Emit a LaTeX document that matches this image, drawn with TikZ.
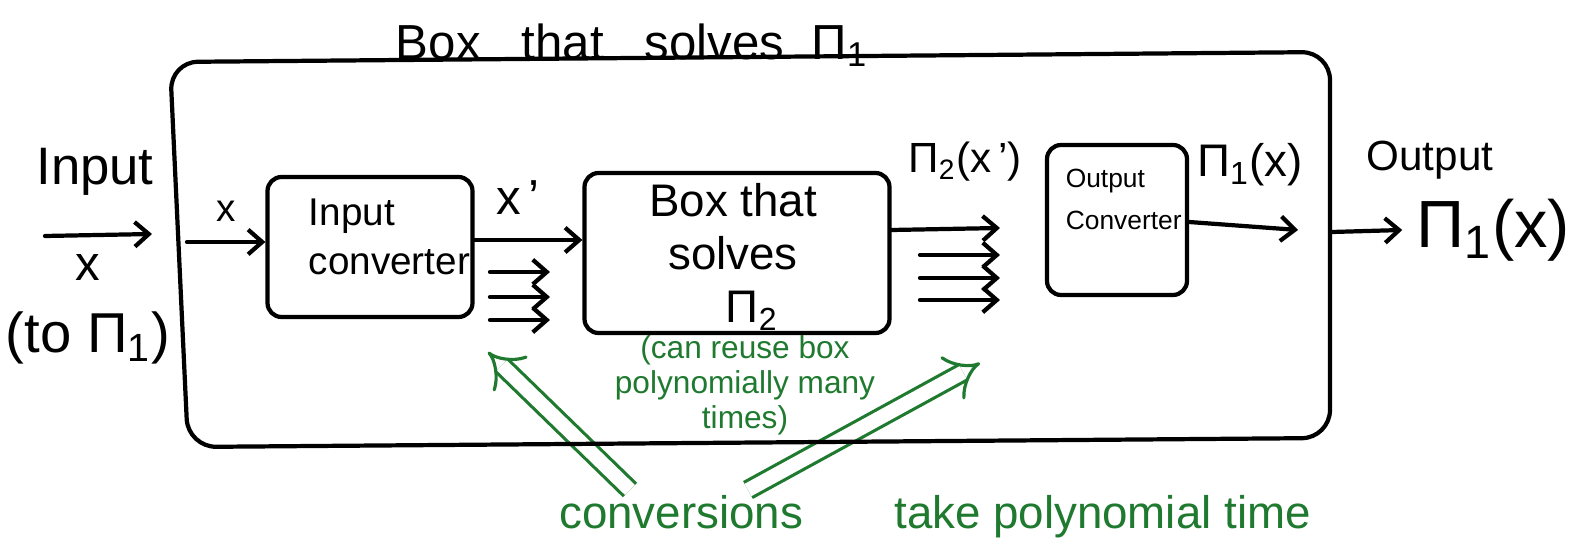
\documentclass[tikz,border=0pt]{standalone}
\usepackage{fontspec}
\setmainfont{Liberation Sans}
\usetikzlibrary{arrows.meta, positioning}
\definecolor{pen}{RGB}{31,122,48}

\begin{document}
\begin{tikzpicture}[x=1cm, y=1cm,
    line width=1.2pt, line cap=round, line join=round,
    arr/.style={-{Straight Barb[length=4pt,width=7pt]}},
    conv/.style={draw, rounded corners=4pt, inner sep=0pt},
    lbl/.style={font=\fontsize{14}{16}\selectfont},
    note/.style={text=pen, font=\fontsize{9}{10}\selectfont, align=center},
    hint/.style={pen, line width=0.9pt, line cap=butt, double distance=4pt, -Implies}]
  \useasboundingbox (0,0) rectangle (15.81,-5.52);
  % notes
  \node[note] (reuse) at (7.45,-3.85) {(can reuse box\\polynomially many\\times)};
  \node[note, font=\fontsize{13}{14}\selectfont] (poly) at (9.35,-5.17) {conversions\qquad take polynomial time};
  \coordinate (sl) at (6.3,-4.9);
  \coordinate (sr) at (7.48,-4.9);
  \coordinate (hl) at (4.88,-3.52);
  \coordinate (hr) at (9.8,-3.63);
  \draw[hint] (sl) -- (hl);
  \draw[hint] (sr) -- (hr);

  % outer box
  \draw[rounded corners=8pt] (1.7,-0.62) -- (13.3,-0.52) -- (13.3,-4.38) -- (1.88,-4.47) -- cycle;
  \node[lbl] (title) at (6.32,-0.45) {Box\ \ \ that\ \ \ solves\ \ Π\textsubscript{1}};

  % left side
  \node[lbl, font=\fontsize{15}{16}\selectfont] (inp) at (0.95,-1.72) {Input};
  \coordinate (ia) at (0.45,-2.36);
  \coordinate (ib) at (1.52,-2.34);
  \draw[arr] (ia) -- (ib);
  \node[lbl] (ix) at (0.88,-2.68) {x};
  \node[lbl, font=\fontsize{16}{18}\selectfont] (ito) at (0.88,-3.38) {(to Π\textsubscript{1})};

  % input converter
  \node[conv, minimum width=2.05cm, minimum height=1.4cm] (inconv) at (3.7,-2.47) {};
  \node[lbl, font=\fontsize{11}{14}\selectfont, align=left, anchor=north west] (intxt) at (2.95,-1.85) {Input\\converter};
  \coordinate (xa) at (1.87,-2.42);
  \draw[arr] (xa) -- (inconv.west |- xa) node[midway, above=2pt, font=\fontsize{11}{12}\selectfont] {x};
  \node[lbl] (xp) at (5.18,-1.98) {x\,'};

  % box that solves Pi_2
  \node[conv, minimum width=3.05cm, minimum height=1.6cm] (solver) at (7.37,-2.53) {};
  \node[font=\fontsize{13}{15}\selectfont, align=center] (soltxt) at (7.33,-2.57) {Box that\\solves\\\ \ \ Π\textsubscript{2}};
  \draw[arr] (inconv.east |- 0,-2.4) -- (solver.west |- 0,-2.4);
  \foreach \y [count=\i] in {2.72,2.97,3.2} {
    \coordinate (pa\i) at (4.9,-\y);
    \coordinate (pb\i) at (5.5,-\y);
    \draw[arr] (pa\i) -- (pb\i);
  }

  % outputs of the solver
  \node[lbl, font=\fontsize{12}{14}\selectfont] (p2) at (9.65,-1.62) {Π\textsubscript{2}(x\,')};
  \coordinate (qb0) at (10.0,-2.28);
  \draw[arr] (solver.east |- 0,-2.3) -- (qb0);
  \foreach \y [count=\i] in {2.55,2.78,3.0} {
    \coordinate (qa\i) at (9.2,-\y);
    \coordinate (qb\i) at (10.0,-\y);
    \draw[arr] (qa\i) -- (qb\i);
  }

  % output converter
  \node[conv, minimum width=1.4cm, minimum height=1.5cm] (outconv) at (11.17,-2.2) {};
  \node[font=\fontsize{7.5}{12}\selectfont, align=left, anchor=north west] (outtxt) at (10.52,-1.55) {Output\\Converter};
  \node[lbl, font=\fontsize{13}{14}\selectfont] (p1) at (12.5,-1.65) {Π\textsubscript{1}(x)};
  \coordinate (ob) at (12.98,-2.3);
  \draw[arr] (outconv.east |- 0,-2.22) -- (ob);

  % right side
  \node[lbl, font=\fontsize{12}{14}\selectfont] (outp) at (14.3,-1.6) {Output};
  \node[lbl, font=\fontsize{19}{22}\selectfont] (res) at (14.93,-2.3) {Π\textsubscript{1}(x)};
  \coordinate (oa) at (13.32,-2.32);
  \draw[arr] (oa) -- (res.west);
\end{tikzpicture}
\end{document}
